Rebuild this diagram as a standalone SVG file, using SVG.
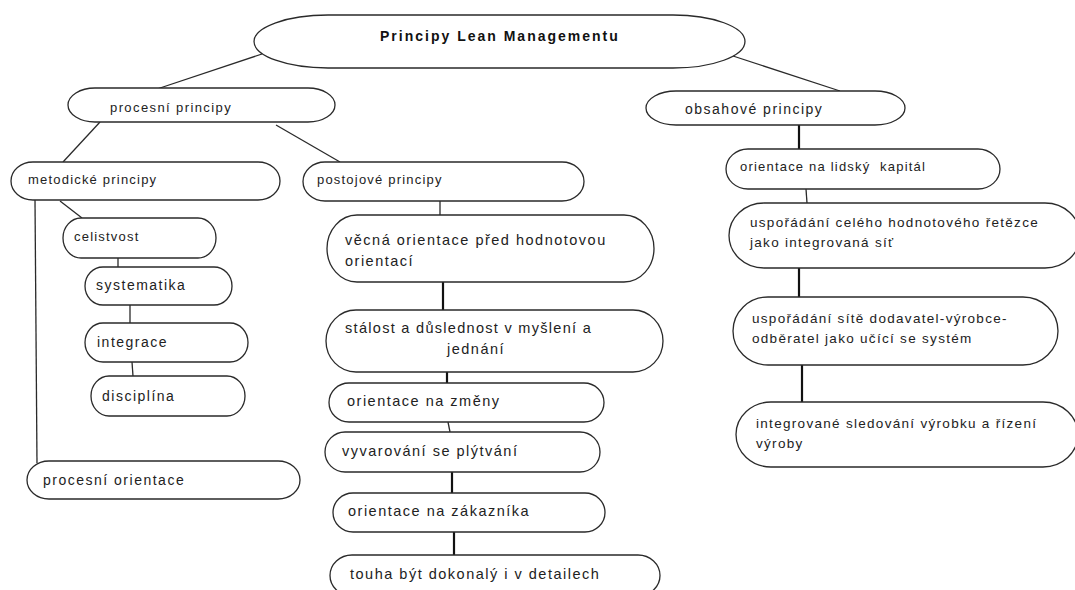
<svg xmlns="http://www.w3.org/2000/svg" width="1075" height="590" viewBox="0 0 1075 590">
  <style>
    .node { fill: #ffffff; stroke: #2a2a2a; stroke-width: 1.3; }
    .link { stroke: #2a2a2a; stroke-width: 1.3; fill: none; }
    .link.thick { stroke: #111; stroke-width: 2.2; }
    text { font-family: "Liberation Sans", Arial, sans-serif; fill: #222; }
    .t { font-size: 13px; letter-spacing: 1.2px; }
    .r { font-size: 13.5px; letter-spacing: 1.3px; }
    .m { font-size: 14px; letter-spacing: 1.5px; }
    .c { font-size: 14.5px; letter-spacing: 1.5px; }
    .title { font-size: 14px; font-weight: bold; letter-spacing: 2px; fill: #111; }
  </style>

  <rect width="1075" height="590" fill="#ffffff"/>

  <!-- connectors -->
  <g id="connectors">
    <line class="link" x1="262" y1="54" x2="157" y2="89"/>
    <line class="link" x1="733" y1="56" x2="840" y2="91"/>
    <line class="link" x1="100" y1="122" x2="63" y2="162"/>
    <line class="link" x1="276" y1="125" x2="340" y2="162"/>
    <line class="link thick" x1="799" y1="125" x2="799" y2="149"/>
    <line class="link" x1="806" y1="189" x2="807" y2="203"/>
    <line class="link thick" x1="799" y1="268" x2="799" y2="297"/>
    <line class="link thick" x1="802" y1="365" x2="802" y2="402"/>
    <line class="link" x1="35" y1="200" x2="37" y2="463"/>
    <line class="link" x1="60" y1="201" x2="82" y2="218"/>
    <line class="link" x1="118" y1="258" x2="118" y2="267"/>
    <line class="link" x1="130" y1="305" x2="130" y2="323"/>
    <line class="link" x1="132" y1="362" x2="133" y2="376"/>
    <line class="link" x1="440" y1="201" x2="440" y2="215"/>
    <line class="link thick" x1="443" y1="282" x2="443" y2="310"/>
    <line class="link thick" x1="447" y1="372" x2="447" y2="383"/>
    <line class="link" x1="448" y1="422" x2="450" y2="432"/>
    <line class="link thick" x1="452" y1="472" x2="452" y2="493"/>
    <line class="link thick" x1="454" y1="532" x2="454" y2="555"/>
  </g>

  <!-- root -->
  <g id="root">
    <path class="node" d="M328,15 H673 A72,26.5 0 0 1 673,68 H328 A74,26.5 0 0 1 328,15 Z"/>
    <text class="title" x="380" y="41">Principy Lean Managementu</text>
  </g>

  <!-- second level -->
  <g id="procesni-principy">
    <path class="node" d="M95,88 H308 A27,17 0 0 1 308,122 H95 A27,17 0 0 1 95,88 Z"/>
    <text class="t" x="110" y="112" style="letter-spacing:1.4px">procesní principy</text>
  </g>
  <g id="obsahove-principy">
    <path class="node" d="M676,91 H875 A30,17 0 0 1 875,125 H676 A30,17 0 0 1 676,91 Z"/>
    <text class="m" x="685" y="114">obsahové principy</text>
  </g>

  <!-- left branch -->
  <g id="metodicke-principy">
    <path class="node" d="M33,162 H258 A22,19 0 0 1 258,200 H33 A22,19 0 0 1 33,162 Z"/>
    <text class="t" x="28" y="184">metodické principy</text>
  </g>
  <g id="celistvost">
    <path class="node" d="M81,218 H198 A18,20 0 0 1 198,258 H81 A18,20 0 0 1 81,218 Z"/>
    <text class="t" x="74" y="241">celistvost</text>
  </g>
  <g id="systematika">
    <path class="node" d="M103,267 H214 A18,19 0 0 1 214,305 H103 A18,19 0 0 1 103,267 Z"/>
    <text class="m" x="96" y="290">systematika</text>
  </g>
  <g id="integrace">
    <path class="node" d="M103,323 H230 A18,19.5 0 0 1 230,362 H103 A18,19.5 0 0 1 103,323 Z"/>
    <text class="m" x="97" y="347">integrace</text>
  </g>
  <g id="disciplina">
    <path class="node" d="M109,376 H227 A18,20 0 0 1 227,416 H109 A18,20 0 0 1 109,376 Z"/>
    <text class="m" x="102" y="401">disciplína</text>
  </g>
  <g id="procesni-orientace">
    <path class="node" d="M49,461 H278 A22,19 0 0 1 278,499 H49 A22,19 0 0 1 49,461 Z"/>
    <text class="m" x="43" y="485">procesní orientace</text>
  </g>

  <!-- middle branch -->
  <g id="postojove-principy">
    <path class="node" d="M325,162 H562 A22,19.5 0 0 1 562,201 H325 A22,19.5 0 0 1 325,162 Z"/>
    <text class="t" x="317" y="184">postojové principy</text>
  </g>
  <g id="vecna-orientace">
    <path class="node" d="M357,215 H624 A30,33.5 0 0 1 624,282 H357 A30,33.5 0 0 1 357,215 Z"/>
    <text class="c" x="345" y="245">věcná orientace před hodnotovou</text>
    <text class="c" x="345" y="266">orientací</text>
  </g>
  <g id="stalost">
    <path class="node" d="M356,310 H633 A30,31 0 0 1 633,372 H356 A30,31 0 0 1 356,310 Z"/>
    <text class="c" x="345" y="333" style="letter-spacing:1.3px">stálost a důslednost v myšlení a</text>
    <text class="c" x="447" y="354">jednání</text>
  </g>
  <g id="orientace-na-zmeny">
    <path class="node" d="M349,383 H584 A20,19.5 0 0 1 584,422 H349 A20,19.5 0 0 1 349,383 Z"/>
    <text class="c" x="347" y="406">orientace na změny</text>
  </g>
  <g id="vyvarovani">
    <path class="node" d="M345,432 H580 A20,20 0 0 1 580,472 H345 A20,20 0 0 1 345,432 Z"/>
    <text class="c" x="342" y="456">vyvarování se plýtvání</text>
  </g>
  <g id="orientace-na-zakaznika">
    <path class="node" d="M353,493 H585 A20,19.5 0 0 1 585,532 H353 A20,19.5 0 0 1 353,493 Z"/>
    <text class="c" x="348" y="516">orientace na zákazníka</text>
  </g>
  <g id="touha">
    <path class="node" d="M352,555 H638 A22,20.5 0 0 1 638,596 H352 A22,20.5 0 0 1 352,555 Z"/>
    <text class="c" x="350" y="579">touha být dokonalý i v detailech</text>
  </g>

  <!-- right branch -->
  <g id="lidsky-kapital">
    <path class="node" d="M748,149 H978 A22,20 0 0 1 978,189 H748 A22,20 0 0 1 748,149 Z"/>
    <text class="t" x="740" y="171" xml:space="preserve">orientace na lidský  kapitál</text>
  </g>
  <g id="hodnotovy-retezec">
    <path class="node" d="M764,203 H1045 A35,32.5 0 0 1 1045,268 H764 A35,32.5 0 0 1 764,203 Z"/>
    <text class="r" x="750" y="227">uspořádání celého hodnotového řetězce</text>
    <text class="r" x="750" y="247">jako integrovaná síť</text>
  </g>
  <g id="sit-dodavatelu">
    <path class="node" d="M768,297 H1023 A35,34 0 0 1 1023,365 H768 A35,34 0 0 1 768,297 Z"/>
    <text class="r" x="752" y="323">uspořádání sítě dodavatel-výrobce-</text>
    <text class="r" x="752" y="343">odběratel jako učící se systém</text>
  </g>
  <g id="sledovani-vyrobku">
    <path class="node" d="M771,402 H1043 A35,32.5 0 0 1 1043,467 H771 A35,32.5 0 0 1 771,402 Z"/>
    <text class="r" x="756" y="428">integrované sledování výrobku a řízení</text>
    <text class="r" x="756" y="448">výroby</text>
  </g>
</svg>
